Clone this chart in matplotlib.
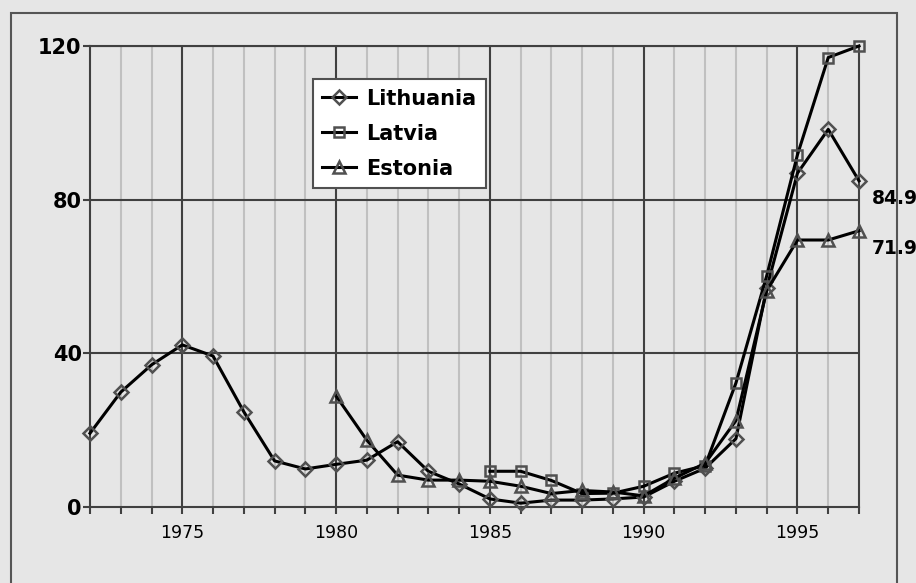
import matplotlib
matplotlib.use("Agg")
import matplotlib.pyplot as plt
from matplotlib.patches import Rectangle

years_lt = list(range(1972, 1998))
lithuania = [19.2, 29.9, 37.0, 42.2, 39.3, 24.8, 12.0, 9.9, 11.1, 12.2, 17.0, 9.3, 6.0,
             2.1, 1.0, 1.8, 1.8, 2.1, 2.6, 6.7, 10.1, 17.8, 57.0, 86.9, 98.3, 84.9]
years_lv = list(range(1985, 1998))
latvia = [9.3, 9.3, 6.9, 3.5, 3.6, 5.4, 8.8, 10.8, 32.3, 60.2, 91.7, 117.0, 120.0]
years_ee = list(range(1980, 1998))
estonia = [28.9, 17.4, 8.3, 7.0, 7.0, 6.7, 5.4, 3.5, 4.3, 3.9, 2.9, 7.5, 11.4, 22.5,
           56.3, 69.5, 69.5, 71.9]

y_ticks = [0, 40, 80, 120]
x_major = [1975, 1980, 1985, 1990, 1995]
end_labels = [("84.9", 84.9), ("71.9", 71.9)]

bg = '#e6e6e6'
dark = '#404040'
plt.rcParams['font.family'] = ['DejaVu Sans']

fig = plt.figure(figsize=(9.16, 5.83), dpi=100, facecolor=bg)
ax = fig.add_axes([90/916, 1 - 507/583, 769/916, 461/583])
ax.set_facecolor(bg)

# outer frame
fig.add_artist(Rectangle((11/916, -0.1), 886/916, 1.1 - 13/583, transform=fig.transFigure,
                         fill=False, edgecolor='#555555', linewidth=1.5))

# grid lines
for yr in range(1973, 1997):
    col = dark if yr in x_major else '#c0c0c0'
    ax.axvline(yr, color=col, linewidth=1.5, zorder=1)
for v in y_ticks[1:]:
    ax.axhline(v, color=dark, linewidth=1.5, zorder=1)

mk = dict(fillstyle='none', markeredgecolor='#505050', markeredgewidth=1.8,
          color='black', linewidth=2.2, zorder=3, clip_on=False)
ax.plot(years_lt, lithuania, marker='D', markersize=7.5, label='Lithuania', **mk)
ax.plot(years_lv, latvia, marker='s', markersize=7.5, label='Latvia', **mk)
ax.plot(years_ee, estonia, marker='^', markersize=9, label='Estonia', **mk)

for txt, v in end_labels:
    ax.annotate(txt, xy=(1997, v), xytext=(9, -13), textcoords='offset points',
                ha='left', va='center', fontsize=13.5, fontweight='bold', annotation_clip=False)

ax.set_xlim(1972, 1997)
ax.set_ylim(0, 120)
ax.set_xticks(range(1972, 1998), minor=True)
ax.set_xticks(x_major)
ax.set_xticklabels([str(y) for y in x_major], fontsize=12.5)
ax.set_yticks(y_ticks)
ax.set_yticklabels([str(v) for v in y_ticks], fontsize=15, fontweight='bold')
ax.tick_params(axis='x', which='both', direction='out', length=5, width=1.5, color=dark, pad=7)
ax.tick_params(axis='y', direction='out', length=5, width=1.5, color=dark, pad=1)
for s in ax.spines.values():
    s.set_color(dark)
    s.set_linewidth(1.5)

leg = ax.legend(loc='upper left', bbox_to_anchor=(0.29, 0.928), fancybox=False,
                framealpha=1, edgecolor='#505050', prop={'weight': 'bold', 'size': 15},
                handlelength=1.6, handletextpad=0.5, labelspacing=0.72, borderpad=0.45,
                borderaxespad=0)
leg.get_frame().set_linewidth(1.5)
leg.set_zorder(5)

fig.savefig('out.png', dpi=100, facecolor=bg)
